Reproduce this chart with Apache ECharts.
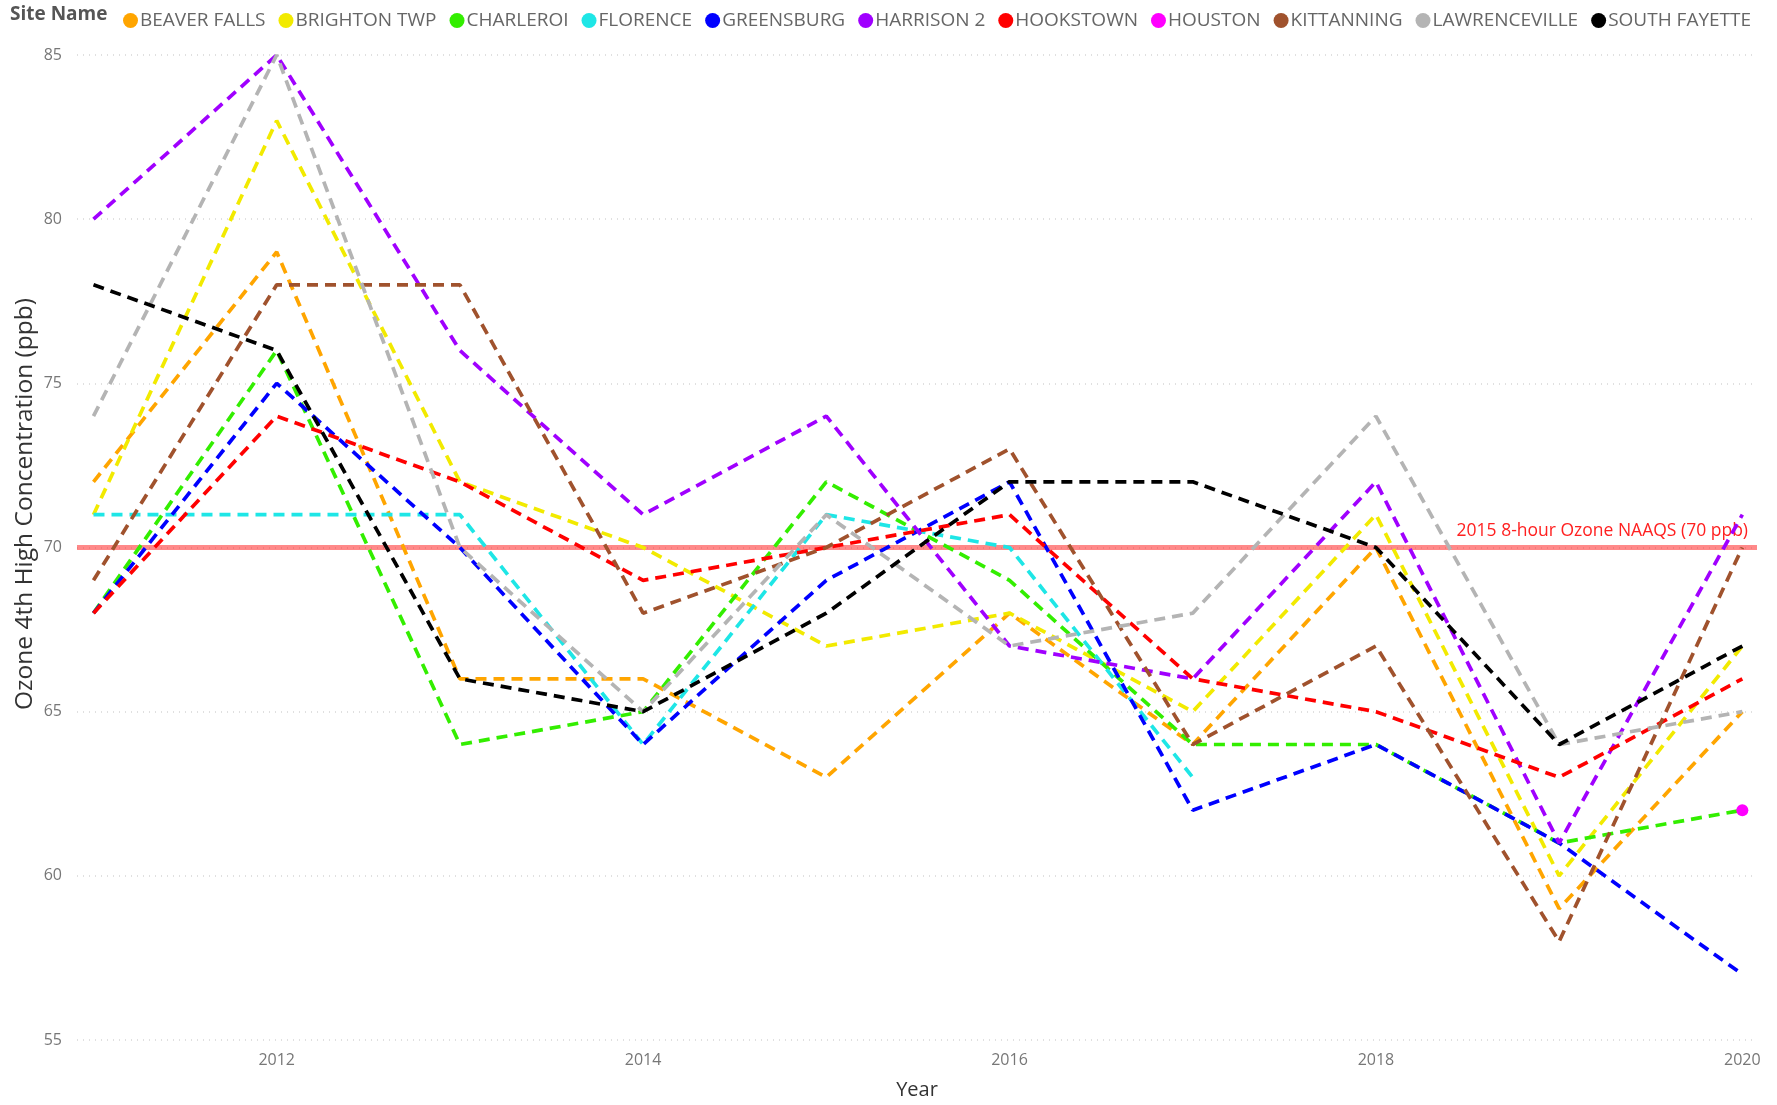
<!DOCTYPE html>
<html><head><meta charset="utf-8">
<script src="https://cdn.jsdelivr.net/npm/echarts@6/dist/echarts.min.js"></script>
<style>html,body{margin:0;padding:0;background:#fff}#c{width:1777px;height:1105px}</style>
</head><body><div id="c"></div>
<script>
const years = [2011, 2012, 2013, 2014, 2015, 2016, 2017, 2018, 2019, 2020];
const xTickLabels = [2012, 2014, 2016, 2018, 2020];
const siteNames = ['BEAVER FALLS','BRIGHTON TWP','CHARLEROI','FLORENCE','GREENSBURG','HARRISON 2','HOOKSTOWN','HOUSTON','KITTANNING','LAWRENCEVILLE','SOUTH FAYETTE'];
const beaverFalls   = [72, 79, 66, 66, 63, 68, 64, 70, 59, 65];
const brightonTwp   = [71, 83, 72, 70, 67, 68, 65, 71, 60, 67];
const charleroi     = [68, 76, 64, 65, 72, 69, 64, 64, 61, 62];
const florence      = [71, 71, 71, 64, 71, 70, 63, null, null, null];
const greensburg    = [68, 75, 70, 64, 69, 72, 62, 64, 61, 57];
const harrison2     = [80, 85, 76, 71, 74, 67, 66, 72, 61, 71];
const hookstown     = [68, 74, 72, 69, 70, 71, 66, 65, 63, 66];
const houston       = [null, null, null, null, null, null, null, null, null, 62];
const kittanning    = [69, 78, 78, 68, 70, 73, 64, 67, 58, 70];
const lawrenceville = [74, 85, 70, 65, 71, 67, 68, 74, 64, 65];
const southFayette  = [78, 76, 66, 65, 68, 72, 72, 70, 64, 67];
const naaqsValue = 70;
const naaqsLabel = '2015 8-hour Ozone NAAQS (70 ppb)';
const yAxisTitle = 'Ozone 4th High Concentration (ppb)';

const seriesValues = [beaverFalls, brightonTwp, charleroi, florence, greensburg, harrison2, hookstown, houston, kittanning, lawrenceville, southFayette];
const colors = ['#FFA500','#F2EA00','#33EE00','#1EE6E6','#0000FF','#A000FF','#FF0000','#FF00FF','#A0522D','#B4B4B4','#000000'];

const FONT = '"Open Sans", "Noto Sans", sans-serif';

const series = siteNames.map((name, i) => {
  const s = {
    name: name,
    type: 'line',
    data: years.map((y, j) => [y, seriesValues[i][j]]),
    connectNulls: false,
    showSymbol: name === 'HOUSTON',
    symbol: 'circle',
    symbolSize: 12,
    itemStyle: { color: colors[i] },
    lineStyle: { color: colors[i], width: 3.7, type: [11, 7] },
    emphasis: { disabled: true },
    z: 3
  };
  if (i === 0) {
    s.markLine = {
      silent: true,
      symbol: 'none',
      data: [{ yAxis: naaqsValue }],
      lineStyle: { color: 'rgba(255,40,40,0.55)', width: 5, type: 'solid' },
      label: { show: true, position: 'insideEndTop', formatter: naaqsLabel, color: '#FF2020', fontFamily: FONT, fontSize: 17.5, distance: [9, 7] },
      z: 1
    };
  }
  return s;
});

const chart = echarts.init(document.getElementById('c'), null, { renderer: 'canvas' });
chart.setOption({
  animation: false,
  backgroundColor: '#ffffff',
  textStyle: { fontFamily: FONT },
  graphic: [{
    type: 'text', left: 10, top: 5,
    style: { text: 'Site Name', font: 'bold 19px ' + FONT, fill: '#555555' }
  }, {
    type: 'text', x: 25, y: 504, rotation: Math.PI / 2,
    style: { text: yAxisTitle, font: '24.5px ' + FONT, fill: '#333333', align: 'center', verticalAlign: 'middle' }
  }],
  legend: {
    left: 118, top: 6,
    icon: 'circle', itemWidth: 15, itemHeight: 15, itemGap: 13,
    textStyle: { color: '#666666', fontSize: 19, fontFamily: FONT, padding: [0, 0, 0, -3] },
    data: siteNames
  },
  grid: { left: 77, right: 20, top: 55, bottom: 57, containLabel: false },
  xAxis: {
    type: 'value',
    min: 2010.91, max: 2020.08,
    name: 'Year', nameLocation: 'middle', nameGap: 40,
    nameTextStyle: { color: '#333333', fontSize: 20, fontFamily: FONT },
    axisLine: { show: false }, axisTick: { show: false },
    splitLine: { show: false },
    axisLabel: { customValues: xTickLabels, color: '#777777', fontSize: 16, fontFamily: FONT, margin: 12, formatter: v => String(v) }
  },
  yAxis: {
    type: 'value', min: 55, max: 85, interval: 5,
    axisLine: { show: false }, axisTick: { show: false },
    axisLabel: { color: '#777777', fontSize: 16, fontFamily: FONT, margin: 15 },
    splitLine: { show: true, lineStyle: { color: '#d6d6d6', type: [1, 5], width: 1.5 } }
  },
  series: series
});
</script></body></html>
